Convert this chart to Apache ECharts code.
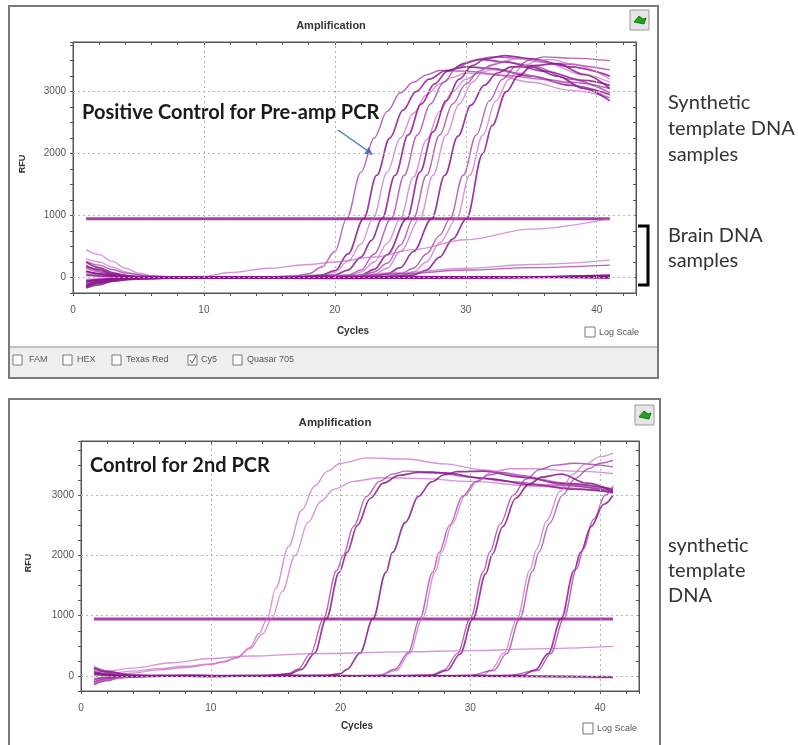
<!DOCTYPE html>
<html><head><meta charset="utf-8">
<script src="https://cdn.jsdelivr.net/npm/echarts@6/dist/echarts.min.js"></script>
<style>html,body{margin:0;padding:0;background:#fff}#c{width:798px;height:745px}</style>
</head><body><div id="c"></div>
<script>
// ---------- tick labels ----------
const xTickLabels = [0, 10, 20, 30, 40];
const yTickLabels = [0, 1000, 2000, 3000];
const xGridLines = [10, 20, 30, 40];
const yGridLines = [0, 1000, 2000, 3000];
const thresholdTop = [[1, 950], [41, 950]];
const thresholdBottom = [[1, 945], [41, 945]];

// ---------- top chart: synthetic template DNA (pre-amp) ----------
const A1 = [[1,150],[2,90],[3,40],[5,5],[8,-10],[12,0],[15,10],[17,30],[18,60],[19,170],[20,420],[20.9,950],[22,1700],[23,2250],[24,2680],[25,2980],[26,3150],[27,3270],[28,3340],[30,3330],[33,3260],[36,3200],[38,3150],[41,3050]];
const A2 = [[1,-80],[2,-40],[3,-10],[6,5],[10,-5],[14,0],[17,10],[19,40],[20,110],[21,380],[22.2,950],[23.2,1650],[24.2,2250],[25.2,2700],[26.2,3000],[27.2,3200],[28.5,3340],[30,3400],[32,3370],[35,3250],[38,3100],[41,2950]];
const A3 = [[1,60],[2,30],[4,0],[8,10],[12,-5],[16,5],[19,30],[20,90],[21,260],[22,540],[22.9,950],[24,1700],[25,2250],[26,2650],[27,2950],[28,3120],[29,3230],[30,3300],[32,3280],[35,3150],[38,3020],[41,2900]];
const A4 = [[1,-140],[2,-80],[3,-30],[5,0],[9,10],[13,-5],[17,10],[20,40],[21,120],[22,330],[22.8,600],[23.6,950],[24.6,1650],[25.6,2300],[26.6,2800],[27.6,3120],[28.6,3330],[30,3460],[31,3520],[33,3480],[36,3330],[39,3180],[41,3100]];
const A5 = [[1,200],[2,110],[3,50],[5,10],[9,-5],[14,5],[18,10],[21,40],[22,120],[23,380],[24.3,950],[25.3,1650],[26.3,2300],[27.3,2800],[28.3,3150],[29.3,3380],[30.5,3500],[32,3560],[34,3540],[37,3450],[41,3350]];
const A6 = [[1,-30],[3,-10],[6,5],[10,-5],[15,0],[19,10],[21,30],[22,90],[23,250],[24,550],[25,950],[26,1620],[27,2220],[28,2680],[29,3000],[30,3200],[31,3300],[32,3350],[34,3300],[37,3150],[41,2900]];
const A7 = [[1,100],[2,60],[3,20],[6,-5],[11,5],[16,-5],[20,10],[22,40],[23,130],[24,370],[25.5,950],[26.5,1700],[27.5,2350],[28.5,2850],[29.5,3200],[30.5,3420],[31.5,3530],[33,3580],[35,3530],[38,3400],[41,3250]];
const A8 = [[1,-160],[2,-90],[3,-40],[5,-10],[9,5],[14,-5],[19,5],[22,30],[23,90],[24,230],[25,520],[26,950],[27,1650],[28,2300],[29,2800],[30,3120],[31,3330],[32,3430],[33,3480],[35,3420],[38,3200],[41,2980]];
const A9 = [[1,30],[3,10],[7,-5],[12,5],[17,0],[21,15],[23,50],[24,150],[25,420],[26.5,950],[27.5,1650],[28.5,2300],[29.5,2800],[30.5,3150],[31.5,3370],[32.5,3480],[34,3530],[36,3470],[39,3270],[41,3150]];
const A10 = [[1,250],[2,160],[3,80],[4,30],[6,0],[10,-10],[15,5],[20,0],[23,20],[24,60],[25,160],[26,420],[27.4,950],[28.4,1650],[29.4,2280],[30.4,2780],[31.4,3100],[32.4,3300],[33.5,3400],[35,3400],[37,3250],[39,3050],[41,2850]];
const A11 = [[1,-100],[2,-60],[3,-20],[6,0],[11,10],[16,-5],[21,5],[24,20],[25,60],[26,150],[27,380],[28,680],[28.8,950],[29.8,1650],[30.8,2300],[31.8,2850],[32.8,3200],[33.8,3400],[35,3520],[36,3560],[38,3540],[41,3500]];
const A12 = [[1,80],[2,50],[4,10],[8,-5],[13,5],[18,0],[22,5],[25,30],[26,90],[27,250],[28,560],[29.3,950],[30.3,1650],[31.3,2300],[32.3,2850],[33.3,3200],[34.3,3400],[35.5,3500],[36.5,3520],[38,3450],[41,3200]];
const A13 = [[1,-50],[3,-20],[6,0],[10,5],[15,-5],[20,5],[24,10],[26,40],[27,120],[28,330],[29,620],[30.05,950],[31.3,2000],[32,2450],[33.1,3000],[34,3250],[35.1,3420],[37,3450],[39,3280],[41,3050]];
// brain DNA samples (top)
const B1 = [[1,450],[2,370],[3,260],[4,150],[5,70],[6,30],[8,0],[10,20],[12,80],[15,150],[18,210],[20,250],[23,330],[26,450],[30,610],[35,780],[41,950]];
const B2 = [[1,300],[2,250],[3,170],[4,90],[5,40],[7,5],[10,0],[15,0],[20,10],[25,80],[30,150],[35,210],[41,280]];
const B3 = [[1,260],[2,200],[3,130],[4,70],[6,20],[10,0],[15,-5],[20,5],[25,60],[30,120],[35,160],[41,200]];
const B4 = [[1,180],[2,130],[3,60],[5,10],[10,-5],[20,0],[30,10],[41,20]];
const B5 = [[1,-170],[2,-120],[3,-60],[5,-20],[10,0],[20,-5],[30,0],[41,10]];
const B6 = [[1,-120],[2,-60],[4,-20],[8,5],[15,-10],[25,-5],[35,10],[41,0]];
const B7 = [[1,100],[2,60],[4,10],[10,0],[20,10],[30,-10],[41,30]];
const B8 = [[1,-60],[3,-30],[6,0],[12,10],[22,-10],[32,0],[41,40]];
const B9 = [[1,40],[3,20],[7,-10],[14,0],[24,15],[34,5],[41,-10]];
const B10 = [[1,-150],[2,-90],[4,-30],[9,0],[19,-15],[29,5],[41,15]];

// ---------- bottom chart: control for 2nd PCR ----------
const C1 = [[1,60],[2,40],[4,80],[6,120],[8,160],[10,200],[11,240],[12,300],[13,470],[13.7,700],[14.35,950],[15,1450],[16,2150],[17,2750],[18,3150],[19,3400],[20,3530],[22,3620],[25,3600],[28,3520],[31,3420],[35,3280],[38,3170],[41,3060]];
const C2 = [[1,-60],[2,-20],[4,50],[6,100],[8,140],[10,190],[11,230],[12,300],[13,450],[14,700],[14.7,950],[15.5,1400],[16.5,2000],[17.5,2550],[18.5,2900],[19.5,3100],[21,3230],[23,3290],[26,3280],[30,3230],[35,3150],[41,3050]];
const D1 = [[1,120],[2,60],[3,20],[5,0],[9,10],[13,-5],[15,10],[16,40],[16.7,110],[17.7,370],[18.67,950],[19.7,1750],[20.2,2000],[21,2480],[22,2980],[23,3230],[24,3350],[25,3400],[27,3390],[30,3300],[33,3230],[36,3170],[41,3080]];
const D2 = [[1,-100],[2,-50],[3,-15],[6,0],[10,-10],[14,5],[16,30],[17,110],[18,380],[18.9,950],[19.9,1720],[20.5,2050],[21.3,2500],[22.3,2950],[23.3,3200],[24.5,3330],[26,3380],[28,3370],[31,3280],[35,3170],[38,3100],[41,3050]];
const D3 = [[1,60],[2,30],[4,0],[8,10],[12,-5],[16,5],[19,10],[20,40],[20.5,110],[21.5,380],[22.5,950],[23.5,1720],[24,2050],[25,2550],[26,2980],[27,3220],[28,3340],[29,3390],[31,3400],[34,3300],[37,3200],[41,3100]];
const D4 = [[1,-40],[3,-15],[6,5],[11,-5],[16,5],[20,0],[23,10],[24.2,110],[25.2,380],[26.1,950],[27.1,1720],[27.6,2050],[28.4,2500],[29.4,2980],[30.4,3220],[31.5,3340],[32.5,3380],[34,3330],[37,3180],[41,3030]];
const D5 = [[1,150],[2,80],[3,30],[5,0],[10,10],[15,-10],[20,5],[23,15],[24.3,90],[25.3,370],[26.3,950],[27.3,1730],[27.8,2060],[28.6,2520],[29.6,3000],[30.6,3250],[31.6,3380],[33,3440],[35,3440],[38,3400],[41,3360]];
const D6 = [[1,-130],[2,-70],[3,-25],[5,0],[9,5],[14,-5],[19,10],[24,0],[27,15],[28,100],[29,370],[30,950],[31,1730],[31.5,2060],[32.3,2520],[33.3,3000],[34.3,3270],[35.3,3420],[36.5,3500],[38,3530],[41,3470]];
const D7 = [[1,40],[3,15],[7,-5],[12,5],[18,-5],[23,5],[27,10],[28.2,90],[29.2,360],[30.2,950],[31.2,1700],[31.7,2020],[32.5,2480],[33.5,2950],[34.5,3180],[35.5,3300],[37,3350],[39,3200],[41,3060]];
const D8 = [[1,90],[2,40],[4,5],[8,-5],[13,5],[18,0],[23,-5],[28,5],[31,15],[31.6,100],[32.6,380],[33.6,950],[34.6,1760],[35.1,2100],[35.9,2580],[36.9,3060],[37.9,3350],[38.9,3520],[40,3640],[41,3700]];
const D9 = [[1,-70],[2,-30],[4,0],[9,10],[14,-5],[20,5],[25,-5],[30,10],[31.8,90],[32.8,370],[33.8,950],[34.8,1740],[35.3,2060],[36.1,2530],[37.1,3000],[38.1,3280],[39.1,3440],[40,3530],[41,3580]];
const D10 = [[1,20],[3,0],[8,5],[14,-5],[20,5],[26,0],[31,-5],[34,10],[35,100],[36,370],[37,950],[38,1750],[38.5,2050],[39.3,2480],[40.3,2850],[41,3000]];
const D11 = [[1,-150],[2,-80],[3,-30],[5,-5],[10,0],[16,5],[22,-5],[28,0],[33,10],[35.2,90],[36.2,370],[37.2,950],[38.2,1780],[38.7,2100],[39.5,2600],[40.4,3000],[41,3150]];
const E1 = [[1,60],[2,80],[4,130],[7,220],[10,290],[13,330],[18,370],[25,400],[30,420],[35,450],[41,490]];
const E2 = [[1,160],[2,90],[3,40],[5,10],[10,0],[20,5],[28,0],[33,-15],[37,-25],[41,-30]];
const E3 = [[1,-110],[2,-60],[4,-15],[8,5],[15,0],[25,-5],[35,0],[41,-10]];
const E4 = [[1,70],[2,30],[4,-10],[9,0],[16,10],[24,-5],[32,0],[41,-20]];
const E5 = [[1,130],[2,70],[4,10],[10,0],[20,-5],[30,5],[34,0]];

// ---------- styling (kept apart from data) ----------
const tones = {
  dark: 'rgba(138,24,140,0.85)',
  mid: 'rgba(160,50,162,0.75)',
  light: 'rgba(196,104,198,0.7)'
};
const topDefs = [
  [A1,'mid'],[A2,'dark'],[A3,'light'],[A4,'dark'],[A5,'mid'],[A6,'light'],[A7,'dark'],
  [A8,'mid'],[A9,'light'],[A10,'dark'],[A11,'mid'],[A12,'light'],[A13,'dark'],
  [B1,'light'],[B2,'light'],[B3,'mid'],[B4,'dark'],[B5,'dark'],[B6,'dark'],[B7,'dark'],
  [B8,'dark'],[B9,'dark'],[B10,'dark']
];
const bottomDefs = [
  [C1,'light'],[C2,'light'],[D1,'mid'],[D2,'dark'],[D3,'dark'],[D4,'mid'],[D5,'light'],
  [D6,'mid'],[D7,'dark'],[D8,'light'],[D9,'mid'],[D10,'dark'],[D11,'mid'],
  [E1,'light'],[E2,'light'],[E3,'light'],[E4,'dark'],[E5,'dark']
];

const AX = '#555';
function xAx(grid, pos) {
  return {
    gridIndex: grid, type: 'value', position: pos, min: 0, max: 43, interval: 2,
    axisLine: { show: true, onZero: false, lineStyle: { color: AX, width: 1 } },
    axisTick: { show: true, length: 3, inside: pos === 'top', lineStyle: { color: AX } },
    axisLabel: { show: pos === 'bottom', margin: 12, fontSize: 10, color: '#555',
      fontFamily: 'Liberation Sans',
      formatter: v => xTickLabels.indexOf(v) >= 0 ? String(v) : '' },
    splitLine: { show: false }
  };
}
function yAx(grid, pos, max) {
  return {
    gridIndex: grid, type: 'value', position: pos, min: -250, max: max, interval: 250,
    axisLine: { show: true, onZero: false, lineStyle: { color: AX, width: 1 } },
    axisTick: { show: true, length: 3, inside: pos === 'right', lineStyle: { color: AX } },
    axisLabel: { show: pos === 'left', margin: 7, fontSize: 10, color: '#555',
      fontFamily: 'Liberation Sans',
      formatter: v => yTickLabels.indexOf(v) >= 0 ? String(v) : '' },
    splitLine: { show: false }
  };
}

function mkSeries(defs, xi, yi) {
  return defs.map((d, i) => ({
    type: 'line', name: 's' + xi + '_' + i, xAxisIndex: xi, yAxisIndex: yi,
    data: d[0], symbol: 'none', smooth: 0.35, smoothMonotone: 'x', z: 3,
    lineStyle: { color: tones[d[1]], width: d[1] === 'dark' ? 1.7 : 1.4 },
    silent: true
  }));
}
function gridMarks() {
  return {
    symbol: 'none', silent: true, label: { show: false },
    lineStyle: { type: [2, 3], color: '#b5b5b5', width: 1 },
    data: xGridLines.map(v => ({ xAxis: v })).concat(yGridLines.map(v => ({ yAxis: v })))
  };
}
function thresh(data, xi, yi) {
  return { type: 'line', xAxisIndex: xi, yAxisIndex: yi, data: data, symbol: 'none', z: 2,
    lineStyle: { color: 'rgba(156,44,158,0.9)', width: 3 }, markLine: gridMarks(), silent: true };
}

const series = [].concat(
  [thresh(thresholdTop, 0, 0)],
  mkSeries(topDefs, 0, 0),
  [thresh(thresholdBottom, 2, 2)],
  mkSeries(bottomDefs, 2, 2)
);

function txt(x, y, s, o) {
  return { type: 'text', x: x, y: y, silent: true,
    style: Object.assign({ text: s, fill: '#333', fontSize: 9, fontFamily: 'Liberation Sans',
      textAlign: 'left', textVerticalAlign: 'middle' }, o || {}) };
}
function box(x, y, w, h, o) {
  return { type: 'rect', shape: { x: x, y: y, width: w, height: h }, silent: true,
    style: Object.assign({ fill: '#fff', stroke: '#666', lineWidth: 1 }, o || {}) };
}
function icon(x, y) {
  return [
    box(x, y, 19, 20, { fill: '#e6e6e6', stroke: '#999' }),
    { type: 'polygon', silent: true, shape: { points: [[x+4,y+12],[x+9,y+6],[x+13,y+9],[x+16,y+8],[x+14,y+14]] },
      style: { fill: '#1fa81f', stroke: '#0b5e0b', lineWidth: 0.8 } }
  ];
}
const small = { fontSize: 9, fill: '#555' };
const big = { fontFamily: 'Lato', fontWeight: 'bold', fontSize: 20, fill: '#1a1a1a' };
const side = { fontFamily: 'Lato', fontSize: 20, fill: '#333' };

const graphics = [].concat(
  [
    box(9, 6, 649, 372, { fill: 'none', stroke: '#7a7a7a', lineWidth: 2 }),
    box(10, 347, 647, 30, { fill: '#efefef', stroke: 'none' }),
    { type: 'line', silent: true, shape: { x1: 10, y1: 347, x2: 657, y2: 347 }, style: { stroke: '#b0b0b0', lineWidth: 1.5 } },
    box(9, 399, 651, 360, { fill: 'none', stroke: '#7a7a7a', lineWidth: 2 }),
    txt(331, 26, 'Amplification', { textAlign: 'center', fontWeight: 'bold', fontSize: 11 }),
    txt(335, 423, 'Amplification', { textAlign: 'center', fontWeight: 'bold', fontSize: 11.5 }),
    txt(353, 331, 'Cycles', { textAlign: 'center', fontWeight: 'bold', fontSize: 10 }),
    txt(357, 726, 'Cycles', { textAlign: 'center', fontWeight: 'bold', fontSize: 10 }),
    Object.assign(txt(23, 164, 'RFU', { textAlign: 'center', fontWeight: 'bold', fontSize: 9 }), { rotation: Math.PI / 2 }),
    Object.assign(txt(29, 563, 'RFU', { textAlign: 'center', fontWeight: 'bold', fontSize: 9 }), { rotation: Math.PI / 2 }),
    box(585, 327, 10, 10, { stroke: '#777' }), txt(599, 333, 'Log Scale', small),
    box(583, 723, 10, 11, { stroke: '#777' }), txt(597, 729, 'Log Scale', small),
    box(13, 355, 9, 10, { stroke: '#777' }), txt(29, 360, 'FAM', small),
    box(63, 355, 9, 10, { stroke: '#777' }), txt(77, 360, 'HEX', small),
    box(112, 355, 9, 10, { stroke: '#777' }), txt(126, 360, 'Texas Red', small),
    box(188, 355, 9, 10, { stroke: '#777' }),
    { type: 'polyline', silent: true, shape: { points: [[190, 360], [192, 363], [196, 356]] }, style: { stroke: '#555', lineWidth: 1, fill: 'none' } },
    txt(201, 360, 'Cy5', small),
    box(233, 355, 9, 10, { stroke: '#777' }), txt(247, 360, 'Quasar 705', small),
    txt(82, 113, 'Positive Control for Pre-amp PCR', big),
    txt(90, 466, 'Control for 2nd PCR', big),
    { type: 'line', silent: true, shape: { x1: 338, y1: 130, x2: 368, y2: 151 }, style: { stroke: '#4a7ebb', lineWidth: 1.5 } },
    { type: 'polygon', silent: true, shape: { points: [[373, 155], [364.2, 153.7], [368.8, 147.1]] }, style: { fill: '#4a7ebb' } },
    { type: 'polyline', silent: true, shape: { points: [[638, 226], [648, 226], [648, 285], [638, 285]] }, style: { stroke: '#000', lineWidth: 3, fill: 'none' } },
    txt(668, 103, 'Synthetic', side),
    txt(668, 129, 'template DNA', side),
    txt(668, 155, 'samples', side),
    txt(668, 236, 'Brain DNA', side),
    txt(668, 261, 'samples', side),
    txt(668, 546, 'synthetic', side),
    txt(668, 571, 'template', side),
    txt(668, 596, 'DNA', side)
  ],
  icon(630, 10),
  icon(635, 405)
);

const chart = echarts.init(document.getElementById('c'), null, { renderer: 'canvas' });
chart.setOption({
  animation: false,
  backgroundColor: '#fff',
  grid: [
    { left: 73, top: 42, width: 563, height: 251, show: true, backgroundColor: '#fff', borderColor: AX, borderWidth: 1 },
    { left: 81, top: 441, width: 558, height: 250, show: true, backgroundColor: '#fff', borderColor: AX, borderWidth: 1 }
  ],
  xAxis: [xAx(0, 'bottom'), xAx(0, 'top'), xAx(1, 'bottom'), xAx(1, 'top')],
  yAxis: [yAx(0, 'left', 3800), yAx(0, 'right', 3800), yAx(1, 'left', 3900), yAx(1, 'right', 3900)],
  series: series,
  graphic: graphics
});
</script></body></html>
